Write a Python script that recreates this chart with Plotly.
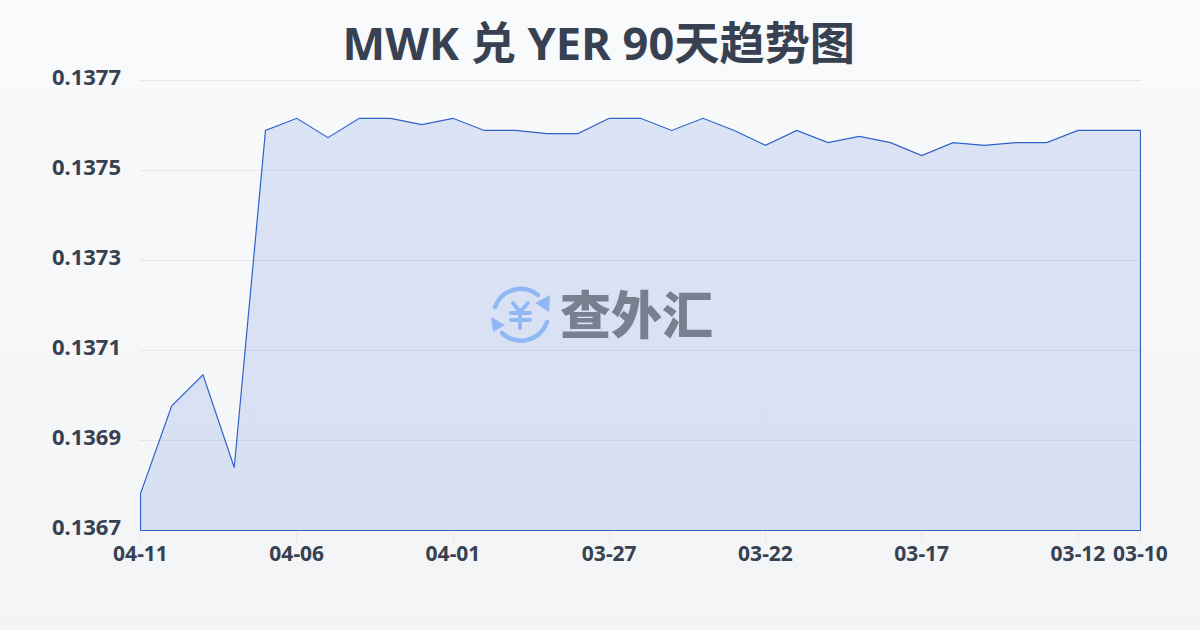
import urllib.parse
import plotly.graph_objects as go

TITLE = "MWK 兑 YER 90天趋势图"
WATERMARK = "查外汇"
dates = ["04-11", "04-10", "04-09", "04-08", "04-07", "04-06", "04-05", "04-04", "04-03", "04-02", "04-01",
         "03-31", "03-30", "03-29", "03-28", "03-27", "03-26", "03-25", "03-24", "03-23", "03-22", "03-21",
         "03-20", "03-19", "03-18", "03-17", "03-16", "03-15", "03-14", "03-13", "03-12", "03-11", "03-10"]
rates = [0.136782, 0.136977, 0.137046, 0.136840, 0.137589, 0.137616, 0.137573, 0.137616, 0.137616, 0.137602, 0.137616,
         0.137589, 0.137589, 0.137582, 0.137582, 0.137616, 0.137616, 0.137589, 0.137616, 0.137589, 0.137556, 0.137589,
         0.137562, 0.137576, 0.137562, 0.137533, 0.137562, 0.137556, 0.137562, 0.137562, 0.137589, 0.137589, 0.137589]
x_ticks = ["04-11", "04-06", "04-01", "03-27", "03-22", "03-17", "03-12", "03-10"]
y_ticks = [0.1367, 0.1369, 0.1371, 0.1373, 0.1375, 0.1377]
FONT = "'Noto Sans', 'Noto Sans CJK SC', sans-serif"
INK = "#374151"
GRID = "#e5e7eb"
X_PAD = 0.016
Y_PAD = 0.00000111

bg_svg = ("<svg xmlns='http://www.w3.org/2000/svg' width='1200' height='630' viewBox='0 0 1200 630' preserveAspectRatio='none'>"
          "<defs><linearGradient id='g' x1='0' y1='0' x2='0' y2='1'><stop offset='0' stop-color='#f9fafc'/>"
          "<stop offset='1' stop-color='#f3f4f6'/></linearGradient></defs>"
          "<rect width='1200' height='630' fill='url(#g)'/></svg>")
icon_svg = ("<svg xmlns='http://www.w3.org/2000/svg' width='60' height='60' viewBox='0 0 60 60'>"
            "<g fill='none' stroke='#8fb8f5' stroke-linecap='round' stroke-linejoin='round'>"
            "<path d='M5 22 A27.5 27.5 0 0 1 48 10' stroke-width='4.5'/>"
            "<path d='M57 37 A27.5 27.5 0 0 1 12 48' stroke-width='4.5'/>"
            "<path d='M23 18 L30 27 L38 18 M30 27 L30 43 M21 28 L40 28 M21 35 L40 35' stroke-width='4'/></g>"
            "<path d='M60 10 L59 27 L45 18 Z M1 32 L3 47 L15 40 Z' fill='#8fb8f5'/></svg>")


def data_uri(svg):
    return "data:image/svg+xml," + urllib.parse.quote(svg)


fig = go.Figure()
fig.add_trace(go.Scatter(
    x=dates + [dates[-1], dates[0], dates[0]],
    y=rates + [y_ticks[0], y_ticks[0], rates[0]],
    mode="lines",
    line=dict(color="#2f62c8", width=1.2),
    fill="toself",
    fillgradient=dict(type="vertical", colorscale=[[0, "rgba(59,108,214,0.155)"], [1, "rgba(59,108,214,0.155)"]]),
    cliponaxis=False,
    hoverinfo="skip",
    showlegend=False,
))
fig.update_layout(
    width=1200, height=630,
    margin=dict(l=140, r=59, t=80, b=99),
    autosize=False,
    paper_bgcolor="#f6f7f9",
    plot_bgcolor="rgba(0,0,0,0)",
    font=dict(family=FONT, color=INK),
    title=dict(text=f"<b>{TITLE}</b>", x=0.499, xanchor="center", y=0.93, yanchor="middle",
               font=dict(size=45.2, color=INK, family=FONT)),
    xaxis=dict(type="category", categoryorder="array", categoryarray=dates, range=[-X_PAD, 32 + X_PAD],
               tickmode="array", tickvals=x_ticks, ticktext=[f"<b>{t}</b>" for t in x_ticks],
               tickfont=dict(size=21, color=INK), ticks="outside", ticklen=10, tickcolor=GRID,
               showgrid=False, zeroline=False, showline=False, tickangle=0, ticklabelstandoff=-6),
    yaxis=dict(range=[y_ticks[0] - Y_PAD, y_ticks[-1] + Y_PAD], tickmode="array", tickvals=y_ticks,
               ticktext=[f"<b>{t:.4f}</b>" for t in y_ticks],
               tickfont=dict(size=22, color=INK), showgrid=True, gridcolor=GRID, gridwidth=1,
               zeroline=False, showline=False, ticks="", ticklabelstandoff=18, ticklabelshift=-3),
    shapes=[dict(type="line", xref="paper", yref="y", x0=0, x1=1, y0=y_ticks[-1], y1=y_ticks[-1],
                 line=dict(color=GRID, width=1), layer="below")],
    images=[
        dict(source=data_uri(bg_svg), xref="paper", yref="paper", x=-140 / 1001, y=1 + 80 / 451,
             sizex=1200 / 1001, sizey=630 / 451, xanchor="left", yanchor="top", sizing="stretch", layer="below"),
        dict(source=data_uri(icon_svg), xref="paper", yref="paper", x=(490 - 140) / 1001, y=(531 - 285) / 451,
             sizex=60 / 1001, sizey=60 / 451, xanchor="left", yanchor="top", sizing="stretch", layer="above"),
    ],
    annotations=[
        dict(text=WATERMARK, xref="paper", yref="paper", x=(636 - 140) / 1001, y=(531 - 312) / 451,
             xanchor="center", yanchor="middle", showarrow=False,
             font=dict(size=51, color="#76808f", weight=900, family="'Noto Sans CJK SC', sans-serif")),
    ],
)
fig.write_html("out.html", config={"displayModeBar": False},
               post_script="document.body.style.margin='0';document.documentElement.style.background='#f6f7f9';")
